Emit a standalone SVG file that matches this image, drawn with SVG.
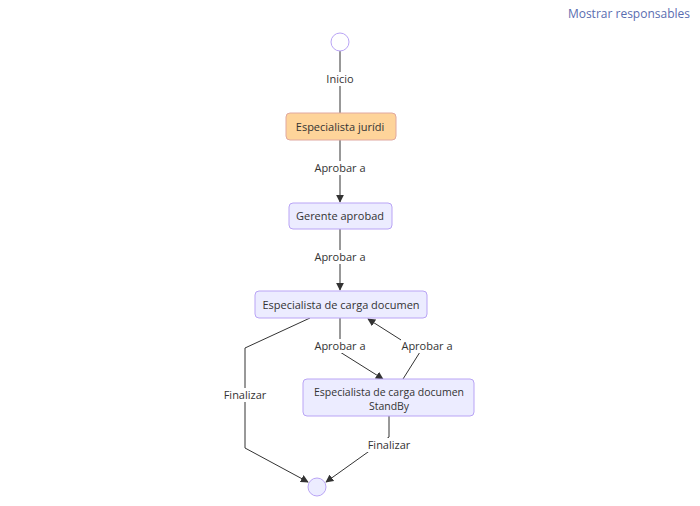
<svg xmlns="http://www.w3.org/2000/svg" width="700" height="506" viewBox="0 0 700 506">
<defs>
<style>
text{font-family:"Open Sans","DejaVu Sans",sans-serif;font-size:11px;fill:#333;text-anchor:middle}
.n{fill:#ececff;stroke:#b9a4f5;stroke-width:1}
.e{fill:none;stroke:#333;stroke-width:1}
.lb{fill:#fff}
.s{font-size:10.5px}
</style>
<marker id="a" viewBox="0 0 10 10" refX="9" refY="5" markerWidth="8" markerHeight="8" orient="auto"><path d="M0,0L10,5L0,10z" fill="#333"/></marker>
</defs>
<rect width="700" height="506" fill="#fff"/>
<text x="690" y="18" style="text-anchor:end;fill:#5a6db0;font-size:12px">Mostrar responsables</text>
<g id="connectors">
<path class="e" d="M340,51V113"/>
<path class="e" d="M340,140V202" marker-end="url(#a)"/>
<path class="e" d="M340,229V290" marker-end="url(#a)"/>
<path class="e" d="M340,318V352L383,379" marker-end="url(#a)"/>
<path class="e" d="M403,379L420,352L368,319" marker-end="url(#a)"/>
<path class="e" d="M310,318L245,348V448L308,482" marker-end="url(#a)"/>
<path class="e" d="M389,416V437L326,482" marker-end="url(#a)"/>
<rect class="lb" x="325" y="72" width="30" height="14"/><text x="340" y="83">Inicio</text>
<rect class="lb" x="314" y="161" width="52" height="14"/><text x="340" y="172">Aprobar a</text>
<rect class="lb" x="314" y="250" width="52" height="14"/><text x="340" y="261">Aprobar a</text>
<rect class="lb" x="314" y="339" width="52" height="14"/><text x="340" y="350">Aprobar a</text>
<rect class="lb" x="401" y="339" width="52" height="14"/><text x="427" y="350">Aprobar a</text>
<rect class="lb" x="222" y="388" width="46" height="14"/><text x="245" y="399">Finalizar</text>
<rect class="lb" x="366" y="438" width="46" height="14"/><text x="389" y="449">Finalizar</text>
</g>
<g id="start"><circle cx="340" cy="42" r="9" fill="#fff" stroke="#b9a4f5"/></g>
<g id="n1"><rect x="286" y="113" width="110" height="27" rx="4" fill="#fed49a" stroke="#e0a8a0"/><text x="340" y="131">Especialista jurídi</text></g>
<g id="n2"><rect class="n" x="289" y="203" width="103" height="26" rx="4"/><text x="340" y="220">Gerente aprobad</text></g>
<g id="n3"><rect class="n" x="255" y="291" width="172" height="27" rx="4"/><text x="341" y="309">Especialista de carga documen</text></g>
<g id="n4"><rect class="n" x="303" y="379" width="171" height="37" rx="4"/><text class="s" x="389" y="396">Especialista de carga documen</text><text class="s" x="389" y="410">StandBy</text></g>
<g id="end"><circle cx="317" cy="487" r="9" fill="#ececff" stroke="#b9a4f5"/></g>
</svg>
